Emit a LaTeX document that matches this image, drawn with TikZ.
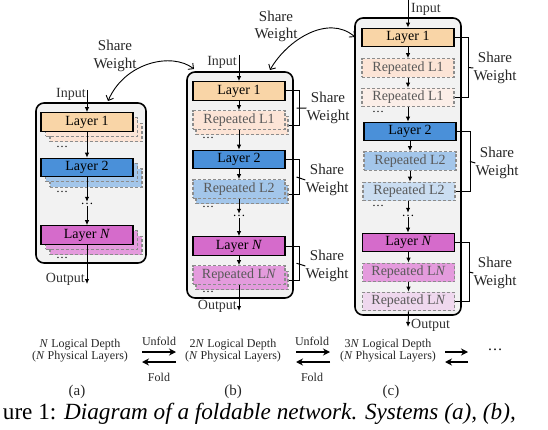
\documentclass[tikz,border=0pt]{standalone}
\usepackage{fontspec}
\setmainfont{Liberation Serif}
\usetikzlibrary{arrows.meta,calc}
\newcommand{\fsz}[2]{\fontsize{#1}{#2}\selectfont}
\definecolor{panelgray}{HTML}{F2F2F2}
\definecolor{dashgray}{HTML}{8C8C8C}
\definecolor{textgray}{HTML}{595959}
\definecolor{lone}{HTML}{F9D5A7}
\definecolor{ltwo}{HTML}{4A90D9}
\definecolor{lN}{HTML}{D56BCB}
\definecolor{ronea}{HTML}{FCE4D6}
\definecolor{roneb}{HTML}{FBEEE8}
\definecolor{rtwoa}{HTML}{A3C6EA}
\definecolor{rtwob}{HTML}{CADDF1}
\definecolor{rNa}{HTML}{E49BDD}
\definecolor{rNb}{HTML}{EFD8EE}
\tikzset{
 panel/.style={draw=black, line width=1.6pt, fill=panelgray, rounded corners=8pt, inner sep=0pt},
 layerbox/.style={draw=black, line width=1.1pt, minimum width=92pt, minimum height=18.5pt, inner sep=0pt, font=\fsz{14}{16}},
 repbox/.style={draw=dashgray, line width=1.1pt, dash pattern=on 3pt off 2pt, minimum width=92pt, minimum height=18.5pt, inner sep=0pt, text=textgray, font=\fsz{14}{16}},
 arr/.style={-{Latex[length=5pt,width=4.5pt]}, line width=1pt},
 lbl/.style={font=\fsz{14}{16}, inner sep=0pt, text=black!80},
 sw/.style={font=\fsz{15}{17.5}, align=center, inner sep=0pt, text=black!85},
 bracket/.style={line width=1pt},
 dotsn/.style={font=\fsz{13}{15}, inner sep=1pt, text height=2pt, text depth=0pt},
 sidedots/.style={font=\fsz{12}{12}, inner sep=0pt, text height=1.5pt, text depth=0pt},
 curvearr/.style={{Straight Barb[length=4pt,width=8pt]}-{Straight Barb[length=4pt,width=8pt]}, line width=0.9pt},
 bigarr/.style={-{Stealth[length=7pt,width=7pt]}, line width=1.3pt},
 small/.style={font=\fsz{12}{12}, align=center, inner sep=0pt, text=black!85},
 sublbl/.style={font=\fsz{15}{17}, inner sep=0pt, text=black!85},
}
\begin{document}
\begin{tikzpicture}[x=1pt,y=-1pt]
\useasboundingbox (0,0) rectangle (548,430);

% ---------------- panel (a)
\node[panel, minimum width=110pt, minimum height=160pt] (pa) at (91,183) {};
\node[sidedots] (adl1) at (62,147) {\ldots};
\node[sidedots] (adl2) at (62,192) {\ldots};
\node[sidedots] (adl3) at (62,258) {\ldots};
\node[repbox, fill=ronea] (a1s2) at (96,132.5) {};
\node[repbox, fill=ronea] (a1s1) at (91.5,127) {};
\node[layerbox, fill=lone] (a1) at (87,122) {Layer 1};
\node[repbox, fill=rtwoa] (a2s2) at (96,178) {};
\node[repbox, fill=rtwoa] (a2s1) at (91.5,172.5) {};
\node[layerbox, fill=ltwo] (a2) at (87,167.5) {Layer 2};
\node[repbox, fill=rNa] (aNs2) at (96,245.5) {};
\node[repbox, fill=rNa] (aNs1) at (91.5,240) {};
\node[layerbox, fill=lN] (aN) at (87,235) {Layer \textit{N}};
\node[dotsn] (ad) at (87,204) {\ldots};
\coordinate (ain) at (87,90);
\coordinate (aout) at (87,284);
\node[lbl, anchor=east] (aintxt) at (86,94) {Input};
\node[lbl, anchor=east] (aouttxt) at (85,279) {Output};
\draw[arr] (ain) -- (a1.north);
\draw[arr] (a1.south) -- (a2.north);
\draw[arr] (a2.south) -- (ad.north);
\draw[arr] (ad.south) -- (aN.north);
\draw[arr] (aN.south) -- (aout);

% ---------------- panel (b)
\node[panel, minimum width=106pt, minimum height=226pt] (pb) at (240,185) {};
\node[sidedots] (bdl1) at (208,138) {\ldots};
\node[sidedots] (bdl2) at (208,207) {\ldots};
\node[sidedots] (bdl3) at (208,292) {\ldots};
\node[layerbox, fill=lone] (b1) at (239,91) {Layer 1};
\node[repbox, fill=ronea] (br1s) at (242,125.5) {};
\node[repbox, fill=ronea] (br1) at (239,120) {Repeated L1};
\node[layerbox, fill=ltwo] (b2) at (239,159.5) {Layer 2};
\node[repbox, fill=rtwoa] (br2s) at (242,194.5) {};
\node[repbox, fill=rtwoa] (br2) at (239,189) {Repeated L2};
\node[dotsn] (bd) at (239,216) {\ldots};
\node[layerbox, fill=lN] (bN) at (239,246) {Layer \textit{N}};
\node[repbox, fill=rNa] (brNs) at (242,280.5) {};
\node[repbox, fill=rNa] (brN) at (239,275) {Repeated L\textit{N}};
\coordinate (bin) at (239,55);
\coordinate (bout) at (239,311);
\node[lbl, anchor=east] (bintxt) at (237,62) {Input};
\node[lbl, anchor=east] (bouttxt) at (237,306) {Output};
\draw[arr] (bin) -- (b1.north);
\draw[arr] (b1.south) -- (br1.north);
\draw[arr] (br1.south) -- (b2.north);
\draw[arr] (b2.south) -- (br2.north);
\draw[arr] (br2.south) -- (bd.north);
\draw[arr] (bd.south) -- (bN.north);
\draw[arr] (bN.south) -- (brN.north);
\draw[arr] (brN.south) -- (bout);
\node[sw] (bsw1) at (328,108) {Share\\Weight};
\node[sw] (bsw2) at (327,180) {Share\\Weight};
\node[sw] (bsw3) at (327,266) {Share\\Weight};
\draw[bracket] (b1.east) -- ++(14,0) |- (br1s.east);
\draw[bracket] ($(b1.east)!0.5!(br1s.east)+(9.5,0)$) -- (bsw1.west);
\draw[bracket] (b2.east) -- ++(14,0) |- (br2s.east);
\draw[bracket] ($(b2.east)!0.5!(br2s.east)+(9.5,0)$) -- (bsw2.west);
\draw[bracket] (bN.east) -- ++(14,0) |- (brNs.east);
\draw[bracket] ($(bN.east)!0.5!(brNs.east)+(9.5,0)$) -- (bsw3.west);

% ---------------- panel (c)
\node[panel, minimum width=106pt, minimum height=297pt] (pc) at (408,166.5) {};
\node[sidedots] (cdl1) at (378,112) {\ldots};
\node[sidedots] (cdl2) at (378,206) {\ldots};
\node[layerbox, fill=lone] (c1) at (408,37.5) {Layer 1};
\node[repbox, fill=ronea] (cr1a) at (408,68) {Repeated L1};
\node[repbox, fill=roneb] (cr1b) at (408,97.5) {Repeated L1};
\node[layerbox, fill=ltwo] (c2) at (410,131.5) {Layer 2};
\node[repbox, fill=rtwoa] (cr2a) at (410,161) {Repeated L2};
\node[repbox, fill=rtwob] (cr2b) at (409,191.5) {Repeated L2};
\node[dotsn] (cd) at (408,215) {\ldots};
\node[layerbox, fill=lN] (cN) at (408.5,242.5) {Layer \textit{N}};
\node[repbox, fill=rNa] (crNa) at (408.5,272.5) {Repeated L\textit{N}};
\node[repbox, fill=rNb] (crNb) at (408.5,301.5) {Repeated L\textit{N}};
\coordinate (cin) at (408,0);
\coordinate (cout) at (408,327);
\node[lbl, anchor=west] (cintxt) at (411,9) {Input};
\node[lbl, anchor=west] (couttxt) at (411,325) {Output};
\draw[arr] (cin) -- (c1.north);
\draw[arr] (c1.south) -- (cr1a.north);
\draw[arr] (cr1a.south) -- (cr1b.north);
\draw[arr] (cr1b.south) -- (c2.north -| cr1b.south);
\draw[arr] (c2.south -| cr2a.north) -- (cr2a.north);
\draw[arr] (cr2a.south) -- (cr2b.north -| cr2a.south);
\draw[arr] (cr2b.south -| cd.north) -- (cd.north);
\draw[arr] (cd.south) -- (cN.north -| cd.south);
\draw[arr] (cN.south) -- (crNa.north);
\draw[arr] (crNa.south) -- (crNb.north);
\draw[arr] (crNb.south) -- (cout);
\node[sw] (csw1) at (495,68) {Share\\Weight};
\node[sw] (csw2) at (497,163) {Share\\Weight};
\node[sw] (csw3) at (495,273) {Share\\Weight};
\draw[bracket] (c1.east) -- ++(14,0) |- (cr1b.east);
\draw[bracket] ($(c1.east)!0.5!(cr1b.east)+(14,0)$) -- (csw1.west);
\draw[bracket] (c2.east) -- ++(14,0) |- (cr2b.east);
\draw[bracket] ($(c2.east)!0.5!(cr2b.east)+(14,0)$) -- (csw2.west);
\draw[bracket] (cN.east) -- ++(14,0) |- (crNb.east);
\draw[bracket] ($(cN.east)!0.5!(crNb.east)+(14,0)$) -- (csw3.west);

% ---------------- shared-weight curves
\node[sw] (tsw1) at (115,56) {Share\\Weight};
\node[sw] (tsw2) at (276,26.5) {Share\\Weight};
\coordinate (ca1) at (108,101);
\coordinate (cb1) at (194,69);
\coordinate (ca2) at (270,70);
\coordinate (cb2) at (355,37);
\draw[curvearr] (ca1) .. controls (125,62) and (172,52) .. (cb1);
\draw[curvearr] (ca2) .. controls (287,40) and (328,14) .. (cb2);

% ---------------- bottom captions
\node[small] (ta) at (80,350.5) {\textit{N} Logical Depth\\(\textit{N} Physical Layers)};
\node[small] (tb) at (233,350.5) {2\textit{N} Logical Depth\\(\textit{N} Physical Layers)};
\node[small] (tc) at (388,350.5) {3\textit{N} Logical Depth\\(\textit{N} Physical Layers)};
\node[small] (uf1) at (159,341) {Unfold};
\node[small] (fo1) at (159,377) {Fold};
\node[small] (uf2) at (312,341) {Unfold};
\node[small] (fo2) at (312,377) {Fold};
\coordinate (u1a) at (142,352); \coordinate (u1b) at (176,352);
\coordinate (f1a) at (176,362); \coordinate (f1b) at (142,362);
\coordinate (u2a) at (296,352); \coordinate (u2b) at (330,352);
\coordinate (f2a) at (330,362); \coordinate (f2b) at (296,362);
\coordinate (u3a) at (445,352); \coordinate (u3b) at (468,352);
\coordinate (f3a) at (468,362); \coordinate (f3b) at (445,362);
\draw[bigarr] (u1a) -- (u1b);
\draw[bigarr] (f1a) -- (f1b);
\draw[bigarr] (u2a) -- (u2b);
\draw[bigarr] (f2a) -- (f2b);
\draw[bigarr] (u3a) -- (u3b);
\draw[bigarr] (f3a) -- (f3b);
\node[font=\fsz{15}{15}, inner sep=0pt] (more) at (495,350) {\ldots};
\node[sublbl] (la) at (77,392) {(a)};
\node[sublbl] (lb) at (233,392) {(b)};
\node[sublbl] (lc) at (391,392) {(c)};
\node[font=\fsz{23.2}{23.2}, inner sep=0pt, anchor=base east] (cap) at (516,419) {ure 1: \textit{Diagram of a foldable network. Systems (a), (b),}};
\end{tikzpicture}
\end{document}
